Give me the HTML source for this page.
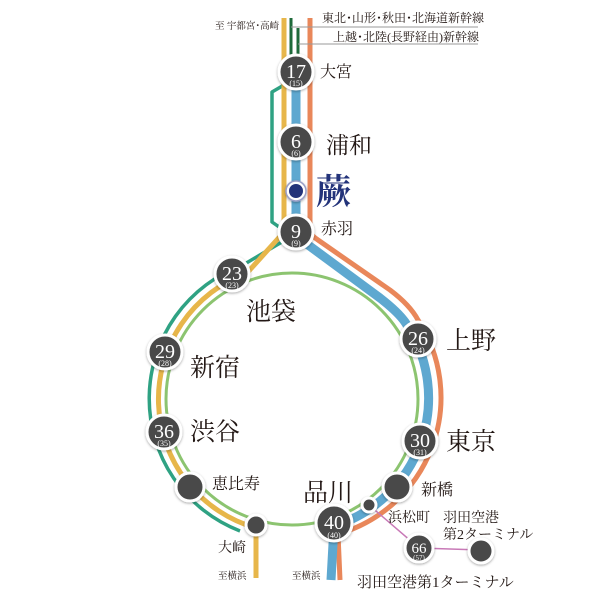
<!DOCTYPE html>
<html><head><meta charset="utf-8"><style>
html,body{margin:0;padding:0;background:#fff;}
svg{display:block;}
text{font-family:"Liberation Serif","Noto Serif CJK JP","Noto Serif CJK SC",serif;fill:#231815;}
.n{fill:#fff;text-anchor:middle;}
</style></head><body>
<svg width="600" height="600" viewBox="0 0 600 600" xmlns="http://www.w3.org/2000/svg">
<defs><filter id="sh" x="-30%" y="-30%" width="160%" height="160%"><feDropShadow dx="0" dy="1" stdDeviation="1.2" flood-color="#000" flood-opacity="0.35"/></filter></defs>
<g fill="none" stroke-linejoin="round">
<circle cx="292" cy="399" r="126" stroke="#8cc470" stroke-width="3"/>
<path d="M296,78 L272,92 L272,222 L292,236 L243,265 A142,142 0 0 0 240,531" stroke="#2fa283" stroke-width="3.5"/>
<path d="M284,18 L284,232 L247,273 A134,134 0 0 0 256,528 L256,578" stroke="#e7b64a" stroke-width="5"/>
<path d="M310,18 L310,232 Q312,236 318,240 L390,290 Q410,305 418,320 A142,142 0 0 1 338,534 L340,580" stroke="#e9875a" stroke-width="5"/>
<path d="M296,70 L296,236 L380,298 Q398,312 405,322 A134,134 0 0 1 334,526 L331,580" stroke="#5ea8d0" stroke-width="9"/>
<path d="M291,18 L291,56 M298,28 L298,60" stroke="#1e6a3a" stroke-width="3"/>
<path d="M291,27 L478,27 M298,44 L478,44" stroke="#999" stroke-width="1"/>
<path d="M369,505 L419,548 L481,550" stroke="#c879b7" stroke-width="1.5"/>
</g>
<g fill="#4a4a4a" stroke="#fff" stroke-width="3" filter="url(#sh)">
<circle cx="296" cy="72" r="17"/>
<circle cx="296" cy="142" r="17"/>
<circle cx="296" cy="232" r="17"/>
<circle cx="232" cy="274" r="17"/>
<circle cx="165" cy="352" r="17"/>
<circle cx="164" cy="432" r="17"/>
<circle cx="190" cy="487" r="14"/>
<circle cx="256" cy="525" r="10"/>
<circle cx="334" cy="523" r="18"/>
<circle cx="369" cy="505" r="7"/>
<circle cx="397" cy="487" r="14"/>
<circle cx="420" cy="441" r="17"/>
<circle cx="418" cy="339" r="17"/>
<circle cx="419" cy="548" r="14"/>
<circle cx="481" cy="551" r="12"/>
</g>
<circle cx="296" cy="191" r="10" fill="#fff" stroke="#9aa0c8" stroke-width="1.5" filter="url(#sh)"/>
<circle cx="296" cy="191" r="7" fill="#23337a"/>
<g>
<text x="296" y="78" font-size="20" class="n">17</text><text x="296" y="86" font-size="8" class="n">(15)</text>
<text x="296" y="148" font-size="20" class="n">6</text><text x="296" y="156" font-size="8" class="n">(6)</text>
<text x="296" y="238" font-size="20" class="n">9</text><text x="296" y="246" font-size="8" class="n">(9)</text>
<text x="232" y="280" font-size="20" class="n">23</text><text x="232" y="288" font-size="8" class="n">(23)</text>
<text x="165" y="358" font-size="20" class="n">29</text><text x="165" y="366" font-size="8" class="n">(28)</text>
<text x="164" y="438" font-size="20" class="n">36</text><text x="164" y="446" font-size="8" class="n">(35)</text>
<text x="334" y="529" font-size="20" class="n">40</text><text x="334" y="538" font-size="8" class="n">(40)</text>
<text x="420" y="447" font-size="20" class="n">30</text><text x="420" y="455" font-size="8" class="n">(31)</text>
<text x="418" y="345" font-size="20" class="n">26</text><text x="418" y="353" font-size="8" class="n">(24)</text>
<text x="419" y="553" font-size="15" class="n">66</text><text x="419" y="560" font-size="7" class="n">(57)</text>
</g>
<text x="215" y="29" font-size="9.5">至 宇都宮･高崎</text>
<text x="322" y="22" font-size="12">東北･山形･秋田･北海道新幹線</text>
<text x="333" y="41" font-size="12">上越･北陸(長野経由)新幹線</text>
<text x="320" y="77" font-size="16">大宮</text>
<text x="326" y="153" font-size="23">浦和</text>
<text x="316" y="204" font-size="35" font-weight="bold" style="fill:#23337a">蕨</text>
<text x="321" y="234" font-size="16">赤羽</text>
<text x="246" y="320" font-size="25">池袋</text>
<text x="190" y="376" font-size="25">新宿</text>
<text x="190" y="440" font-size="25">渋谷</text>
<text x="212" y="489" font-size="16">恵比寿</text>
<text x="218" y="552" font-size="14">大崎</text>
<text x="218" y="579" font-size="9.5">至横浜</text>
<text x="292" y="579" font-size="9.5">至横浜</text>
<text x="303" y="501" font-size="25">品川</text>
<text x="421" y="495" font-size="16">新橋</text>
<text x="388" y="522" font-size="14">浜松町</text>
<text x="443" y="522" font-size="14">羽田空港</text>
<text x="443" y="539" font-size="14">第2ターミナル</text>
<text x="357" y="587" font-size="15">羽田空港第1ターミナル</text>
<text x="446" y="349" font-size="25">上野</text>
<text x="446" y="450" font-size="25">東京</text>
</svg>
</body></html>
